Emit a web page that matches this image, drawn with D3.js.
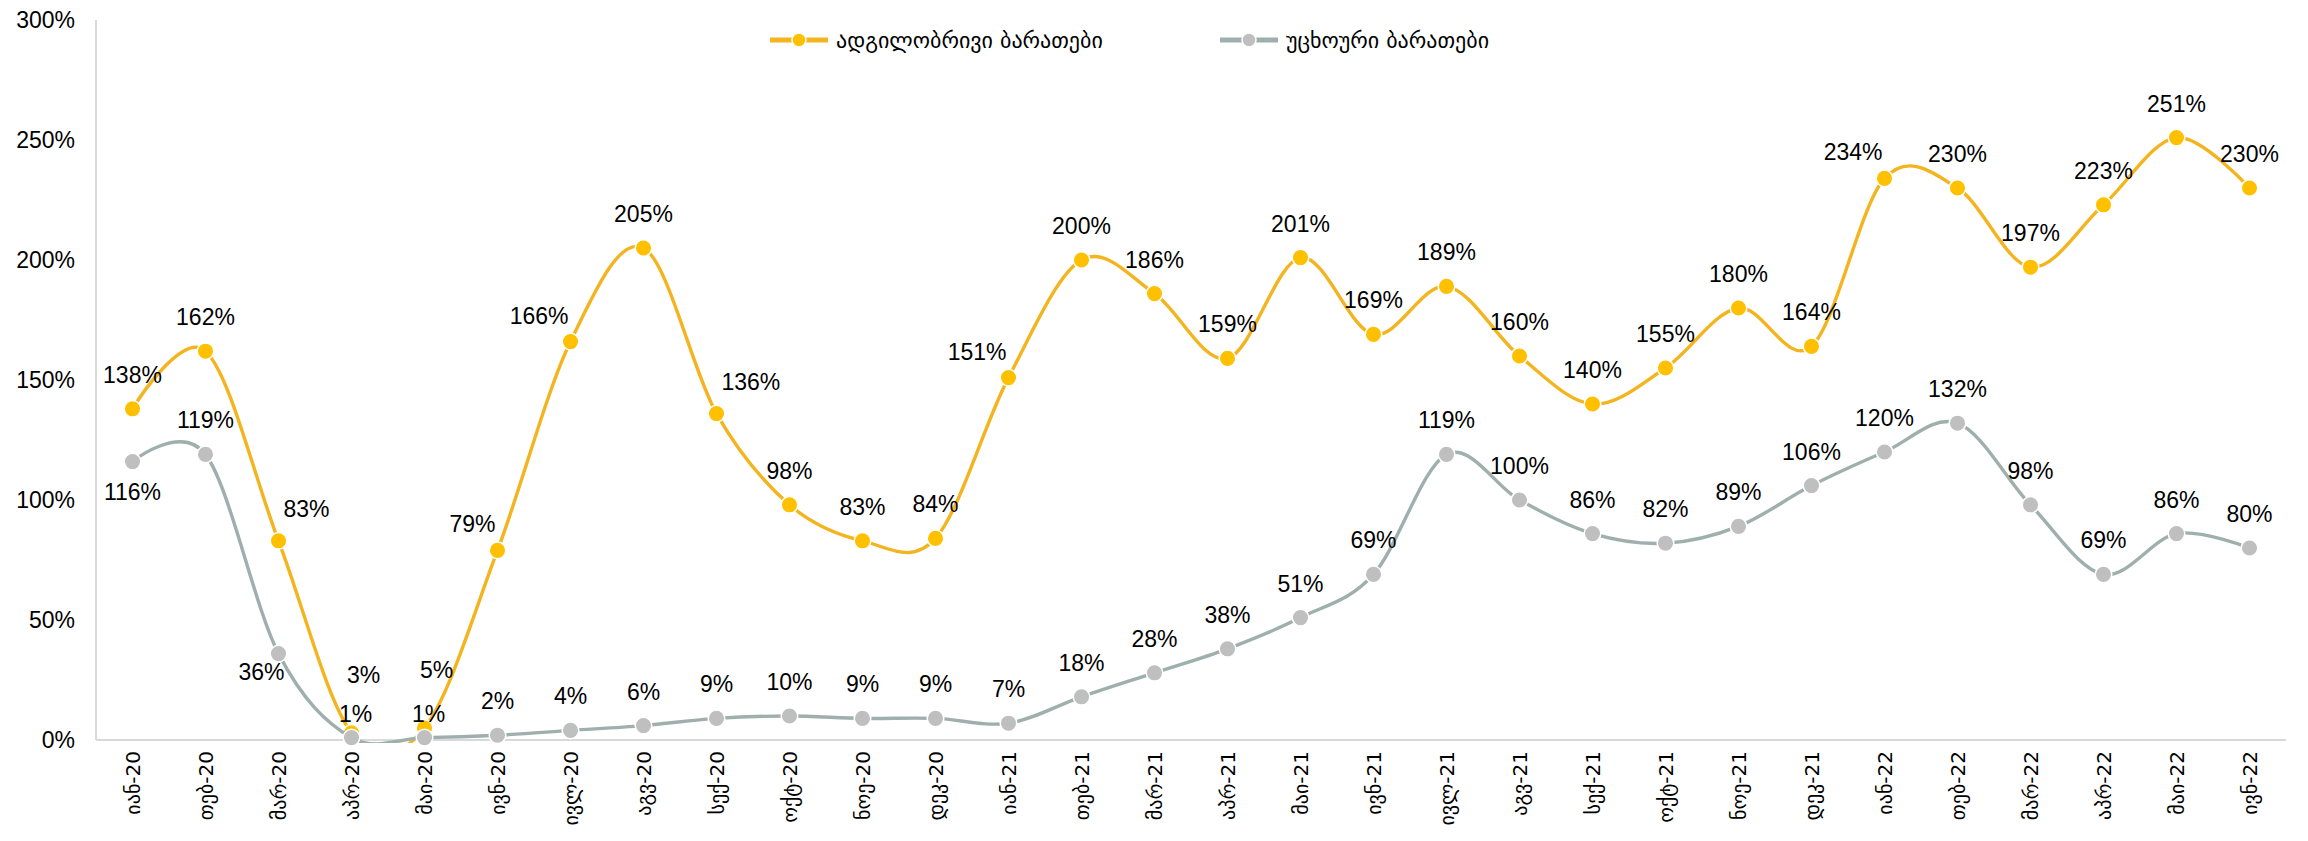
<!DOCTYPE html>
<meta charset="utf-8">
<title>ბარათები</title>
<style>
    body {
        margin: 0;
        background: #fff;
    }

    svg text {
        font-family: "Liberation Sans", Arial, "DejaVu Sans", sans-serif;
        fill: #000;
    }

    .axis .domain {
        stroke: #d9d9d9;
        stroke-width: 2;
    }

    .line {
        fill: none;
        stroke-width: 3.4;
        stroke-linecap: round;
    }

    .dot {
        stroke: #fff;
        stroke-width: 1.5;
    }
</style>

<body>
<svg width="2308" height="841"></svg>
<script src="https://cdn.jsdelivr.net/npm/d3@7"></script>
<script>
    var months = ["იან-20", "თებ-20", "მარ-20", "აპრ-20", "მაი-20", "ივნ-20", "ივლ-20", "აგვ-20", "სექ-20", "ოქტ-20", "ნოე-20", "დეკ-20",
        "იან-21", "თებ-21", "მარ-21", "აპრ-21", "მაი-21", "ივნ-21", "ივლ-21", "აგვ-21", "სექ-21", "ოქტ-21", "ნოე-21", "დეკ-21",
        "იან-22", "თებ-22", "მარ-22", "აპრ-22", "მაი-22", "ივნ-22"];

    // local cards, %
    var local = [138, 162, 83, 3, 5, 79, 166, 205, 136, 98, 83, 84,
        151, 200, 186, 159, 201, 169, 189, 160, 140, 155, 180, 164,
        234, 230, 197, 223, 251, 230];

    // foreign cards, %
    var foreign = [116, 119, 36, 1, 1, 2, 4, 6, 9, 10, 9, 9,
        7, 18, 28, 38, 51, 69, 119, 100, 86, 82, 89, 106,
        120, 132, 98, 69, 86, 80];

    var seriesNames = ["ადგილობრივი ბარათები", "უცხოური ბარათები"];
    var yTicks = [0, 0.5, 1, 1.5, 2, 2.5, 3];

    // where each data label sits relative to its point
    var localLabelPos = ["a", "a", "ar", "h", "h", "al", "al", "a", "ar", "a", "a", "a",
        "al", "a", "a", "a", "a", "a", "a", "a", "a", "a", "a", "a",
        "al", "a", "a", "a", "a", "a"];
    var foreignLabelPos = ["b", "a", "bl", "s", "s", "a", "a", "a", "a", "a", "a", "a",
        "a", "a", "a", "a", "a", "a", "a", "a", "a", "a", "a", "a",
        "a", "a", "a", "a", "a", "a"];

    var placement = {
        a: {dx: 0, dy: -26, anchor: "middle"},
        ar: {dx: 5, dy: -24, anchor: "start"},
        al: {dx: -2, dy: -18, anchor: "end"},
        h: {dx: 12, dy: -50, anchor: "middle"},
        b: {dx: 0, dy: 38, anchor: "middle"},
        bl: {dx: 6, dy: 26, anchor: "end"},
        s: {dx: 4, dy: -16, anchor: "middle"}
    };

    var margin = {top: 20, right: 22, bottom: 101, left: 96},
        W = 2308, H = 841;

    var svg = d3.select("svg");

    var x = d3.scaleBand()
        .domain(months)
        .range([margin.left, W - margin.right])
        .padding(0);

    var y = d3.scaleLinear()
        .domain([0, 3])
        .range([H - margin.bottom, margin.top]);

    var cx = function(i) { return x(months[i]) + x.bandwidth() / 2; };

    // plot area clip (Excel cuts the smoothed line below the axis)
    svg.append("defs").append("clipPath")
        .attr("id", "plot")
        .append("rect")
        .attr("x", margin.left)
        .attr("y", 0)
        .attr("width", W - margin.left)
        .attr("height", H - margin.bottom + 3);

    // y axis
    svg.append("g")
        .attr("class", "axis axis--y")
        .attr("transform", "translate(" + margin.left + ",0)")
        .call(d3.axisLeft(y).tickValues(yTicks).tickSize(0).tickPadding(21)
            .tickFormat(d3.format(".0%")))
        .call(g => g.selectAll(".domain").attr("d", "M0," + margin.top + "V" + (H - margin.bottom)))
        .selectAll("text")
        .style("font-size", "23px")
        .style("font-family", "'Liberation Sans', Arial, sans-serif")
        .attr("fill", "#000");

    // x axis
    svg.append("g")
        .attr("class", "axis axis--x")
        .attr("transform", "translate(0," + (H - margin.bottom) + ")")
        .call(d3.axisBottom(x).tickSize(0))
        .call(g => g.selectAll(".domain").attr("d", "M" + margin.left + ",0H" + (W - margin.right)))
        .selectAll("text")
        .style("font-size", "20px")
        .style("font-family", "'DejaVu Sans', 'Liberation Sans', sans-serif")
        .attr("fill", "#000")
        .attr("text-anchor", "end")
        .attr("transform", "translate(0,11) rotate(-90)")
        .attr("x", 0)
        .attr("y", 0)
        .attr("dy", "0.35em");

    var line = d3.line()
        .x((d, i) => cx(i))
        .y(d => y(d / 100))
        .curve(d3.curveCardinal.tension(0));

    var series = [
        {name: seriesNames[0], values: local, pos: localLabelPos, lineColor: "#f3b41f", dotColor: "#ffc000"},
        {name: seriesNames[1], values: foreign, pos: foreignLabelPos, lineColor: "#9eafad", dotColor: "#bfbfbf"}
    ];

    series.forEach(s => {
        svg.append("path")
            .attr("class", "line")
            .attr("clip-path", "url(#plot)")
            .attr("stroke", s.lineColor)
            .attr("d", line(s.values));
        svg.append("g").selectAll("circle")
            .data(s.values)
            .enter().append("circle")
            .attr("class", "dot")
            .attr("cx", (d, i) => cx(i))
            .attr("cy", d => y(d / 100))
            .attr("r", 8.3)
            .attr("fill", s.dotColor);
    });

    series.forEach(s => {
        svg.append("g").selectAll("text")
            .data(s.values)
            .enter().append("text")
            .attr("x", (d, i) => cx(i) + placement[s.pos[i]].dx)
            .attr("y", (d, i) => y(d / 100) + placement[s.pos[i]].dy)
            .attr("text-anchor", (d, i) => placement[s.pos[i]].anchor)
            .style("font-size", "23px")
            .text(d => d + "%");
    });

    // legend
    var legendX = [770, 1220];
    var legend = svg.append("g").selectAll("g")
        .data(series)
        .enter().append("g")
        .attr("transform", (d, i) => "translate(" + legendX[i] + ",40)");
    legend.append("line")
        .attr("x1", 0).attr("x2", 58)
        .attr("stroke", d => d.lineColor)
        .attr("stroke-width", 5);
    legend.append("circle")
        .attr("cx", 29)
        .attr("r", 7)
        .attr("fill", d => d.dotColor)
        .attr("stroke", "#fff")
        .attr("stroke-width", 1.5);
    legend.append("text")
        .attr("x", 66)
        .attr("dy", "0.35em")
        .style("font-size", "22px")
        .style("font-family", "'DejaVu Sans', sans-serif")
        .text(d => d.name);
</script>
</body>
